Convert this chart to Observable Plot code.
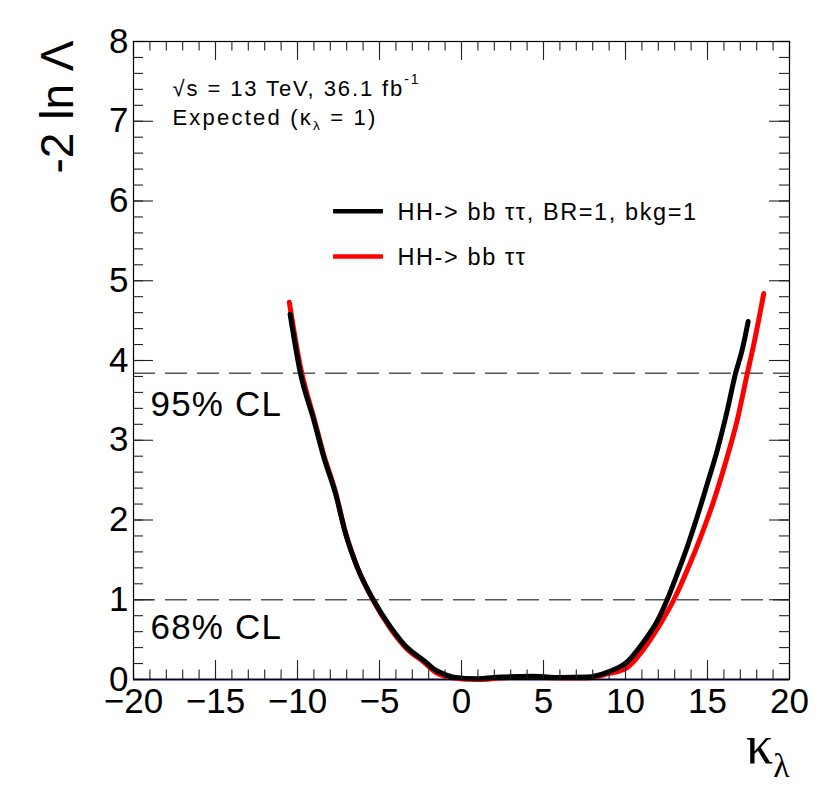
<!DOCTYPE html>
<html>
<head>
<meta charset="utf-8">
<script src="https://cdn.jsdelivr.net/npm/d3@7"></script>
<script src="https://cdn.jsdelivr.net/npm/@observablehq/plot@0.6"></script>
<style>
  html, body { margin: 0; padding: 0; background: white; }
</style>
</head>
<body>
<div id="chart"></div>
<script>
// ---- Data ----
const kappaBlack = [-10.45, -9.82, -9.0, -8.4, -7.68, -7.07, -6.36, -5.38, -4.33, -3.31, -2.9, -2.3, -1.68, -1.1, -0.47, 0.96, 2.4, 4.4, 6.0, 7.66, 8.88, 10.1, 11.1, 11.93, 12.54, 13.15, 13.76, 14.37, 14.98, 15.59, 16.2, 16.71, 17.1, 17.48];
const nllBlack   = [4.58, 3.84, 3.25, 2.79, 2.33, 1.83, 1.41, 1.0, 0.66, 0.40, 0.33, 0.24, 0.13, 0.07, 0.03, 0.01, 0.03, 0.04, 0.025, 0.03, 0.09, 0.22, 0.47, 0.73, 1.0, 1.32, 1.66, 2.04, 2.45, 2.87, 3.37, 3.84, 4.12, 4.49];

const kappaRed = [-10.5, -9.8, -9.0, -8.4, -7.68, -7.07, -6.36, -5.38, -4.33, -3.31, -2.3, -1.5, -0.5, 1.0, 2.4, 4.4, 6.0, 7.66, 8.9, 10.1, 11.1, 12.13, 12.95, 13.76, 14.57, 15.38, 16.2, 16.81, 17.42, 17.83, 18.43];
const nllRed   = [4.73, 3.9, 3.28, 2.82, 2.35, 1.84, 1.41, 0.99, 0.64, 0.38, 0.22, 0.08, 0.02, 0.0, 0.02, 0.03, 0.02, 0.02, 0.07, 0.15, 0.38, 0.70, 1.0, 1.37, 1.78, 2.24, 2.79, 3.25, 3.83, 4.21, 4.84];

const clLevels = [1, 3.84];
const clLabels = ["68% CL", "95% CL"];

const xMajorTicks = [-20, -15, -10, -5, 0, 5, 10, 15, 20];
const xMinorTicks = d3.range(-20, 21, 1);
const yMajorTicks = [0, 1, 2, 3, 4, 5, 6, 7, 8];
const yMinorTicks = d3.range(0, 41, 1).map(i => i / 5);

const legendLabels = ["HH-> bb ττ, BR=1, bkg=1", "HH-> bb ττ"];
const legendColors = ["black", "red"];

const textLines = ["√s = 13 TeV, 36.1 fb^{-1}", "Expected (κ_{λ} = 1)"];
const yTitle = "-2 ln Λ";
const xTitle = "κ_{λ}";

// ---- Tables built from arrays ----
const black = kappaBlack.map((k, i) => ({k, v: nllBlack[i]}));
const red = kappaRed.map((k, i) => ({k, v: nllRed[i]}));
const legend = legendLabels.map((label, i) => ({label, color: legendColors[i], row: i}));
const cl = clLevels.map((v, i) => ({v, label: clLabels[i]}));

// ---- layout ----
const W = 830, H = 809, mL = 133, mR = 41, mT = 41, mB = 130;
const xDomain = [-20, 20], yDomain = [0, 8];
const pxX = (W - mL - mR) / (xDomain[1] - xDomain[0]);
const pxY = (H - mT - mB) / (yDomain[1] - yDomain[0]);
const majLen = 19, minLen = 9.5;

const font = "'Liberation Sans', Arial, Helvetica, sans-serif";
const tickStroke = "#222";
const tickW = 1.1;

const chart = Plot.plot({
  width: W,
  height: H,
  marginLeft: mL,
  marginRight: mR,
  marginTop: mT,
  marginBottom: mB,
  x: {domain: xDomain},
  y: {domain: yDomain},
  style: {fontFamily: font, background: "white", color: "black"},
  marks: [
    // CL dashed lines
    Plot.ruleY(cl, {y: "v", stroke: "#555", strokeWidth: 1.4, strokeDasharray: "22,10"}),
    // zero line
    Plot.ruleY([0], {stroke: "#1c1c86", strokeWidth: 2}),
    // curves
    Plot.line(red, {x: "k", y: "v", stroke: "red", strokeWidth: 5, curve: "monotone-x"}),
    Plot.line(black, {x: "k", y: "v", stroke: "black", strokeWidth: 5, curve: "monotone-x"}),
    // ticks inside on all four sides
    Plot.ruleX(xMinorTicks, {x: d => d, y1: yDomain[0], y2: yDomain[0] + minLen / pxY, stroke: tickStroke, strokeWidth: tickW}),
    Plot.ruleX(xMajorTicks, {x: d => d, y1: yDomain[0], y2: yDomain[0] + majLen / pxY, stroke: tickStroke, strokeWidth: tickW}),
    Plot.ruleX(xMinorTicks, {x: d => d, y1: yDomain[1], y2: yDomain[1] - minLen / pxY, stroke: tickStroke, strokeWidth: tickW}),
    Plot.ruleX(xMajorTicks, {x: d => d, y1: yDomain[1], y2: yDomain[1] - majLen / pxY, stroke: tickStroke, strokeWidth: tickW}),
    Plot.ruleY(yMinorTicks, {y: d => d, x1: xDomain[0], x2: xDomain[0] + (minLen + 0.5) / pxX, stroke: tickStroke, strokeWidth: tickW}),
    Plot.ruleY(yMajorTicks, {y: d => d, x1: xDomain[0], x2: xDomain[0] + (majLen + 1) / pxX, stroke: tickStroke, strokeWidth: tickW}),
    Plot.ruleY(yMinorTicks, {y: d => d, x1: xDomain[1], x2: xDomain[1] - (minLen + 0.5) / pxX, stroke: tickStroke, strokeWidth: tickW}),
    Plot.ruleY(yMajorTicks, {y: d => d, x1: xDomain[1], x2: xDomain[1] - (majLen + 1) / pxX, stroke: tickStroke, strokeWidth: tickW}),
    // tick labels
    Plot.axisX({anchor: "bottom", ticks: xMajorTicks, tickSize: 0, tickPadding: 9, fontSize: 35, label: null, fill: "black"}),
    Plot.axisY({anchor: "left", ticks: yMajorTicks, tickSize: 0, tickPadding: 5, fontSize: 35, label: null, fill: "black"}),
    Plot.frame({stroke: "black", strokeWidth: 1.2}),
    // CL labels
    Plot.text([clLabels[1]], {frameAnchor: "top-left", text: d => d, dx: 17, dy: 374, textAnchor: "start", lineAnchor: "bottom", fontSize: 35, fill: "black"}),
    Plot.text([clLabels[0]], {frameAnchor: "top-left", text: d => d, dx: 17, dy: 597, textAnchor: "start", lineAnchor: "bottom", fontSize: 35, fill: "black"}),
    // legend
    Plot.ruleY(legend, {y: d => 5.87 - 0.565 * d.row, x1: -7.8, x2: -4.76, stroke: "color", strokeWidth: 4.5}),
    Plot.text(legend, {x: -4.76, y: d => 5.87 - 0.565 * d.row, text: "label", dx: 14, dy: 1, textAnchor: "start", lineAnchor: "middle", fontSize: 23.5, fill: "black"}),
    // annotation text
    Plot.text([textLines[0]], {frameAnchor: "top-left", text: d => d, dx: 39, dy: 54, textAnchor: "start", lineAnchor: "bottom", fontSize: 22, fill: "black"}),
    Plot.text([textLines[1]], {frameAnchor: "top-left", text: d => d, dx: 39, dy: 83, textAnchor: "start", lineAnchor: "bottom", fontSize: 22, fill: "black"}),
    // axis titles
    Plot.text([yTitle], {frameAnchor: "top-left", text: d => d, dx: -61, dy: -1, rotate: -90, textAnchor: "end", lineAnchor: "bottom", fontSize: 46, fill: "black"}),
    Plot.text([xTitle], {frameAnchor: "bottom-right", text: d => d, dx: 0, dy: 83, textAnchor: "end", lineAnchor: "bottom", fontSize: 54, fontFamily: "'Liberation Serif', 'Times New Roman', serif", fill: "black"})
  ]
});

document.getElementById("chart").appendChild(chart);

// ---- letter spacing to match the wider text rendering of the reference ----
const spacing = new Map([
  [textLines[0], 1.9],
  [textLines[1], 2.2],
  [legendLabels[0], 1.6],
  [legendLabels[1], 1.6],
  [clLabels[0], 1.2],
  [clLabels[1], 1.2]
]);
d3.select(chart).selectAll("text").each(function() {
  const t = this.textContent;
  if (spacing.has(t)) d3.select(this).style("letter-spacing", `${spacing.get(t)}px`);
});

// ---- rich text: _{..} subscript, ^{..} superscript ----
function richify(root) {
  d3.select(root).selectAll("text").each(function() {
    const t = this.textContent;
    if (!/[_^]\{/.test(t)) return;
    const el = d3.select(this);
    const fs = parseFloat(getComputedStyle(this).fontSize) || 20;
    el.text(null);
    const re = /([_^])\{([^}]*)\}/g;
    let last = 0, m, pending = 0;
    while ((m = re.exec(t))) {
      if (m.index > last) {
        el.append("tspan").attr("dy", pending ? `${pending}px` : null).text(t.slice(last, m.index));
        pending = 0;
      }
      const sub = m[1] === "_";
      const shift = sub ? 0.27 * fs : -0.52 * fs;
      el.append("tspan").attr("dy", `${shift + pending}px`).style("font-size", `${fs * (sub ? 0.62 : 0.64)}px`).text(m[2]);
      pending = -shift;
      last = re.lastIndex;
    }
    if (last < t.length) {
      el.append("tspan").attr("dy", pending ? `${pending}px` : null).text(t.slice(last));
    }
  });
}
richify(chart);
</script>
</body>
</html>
